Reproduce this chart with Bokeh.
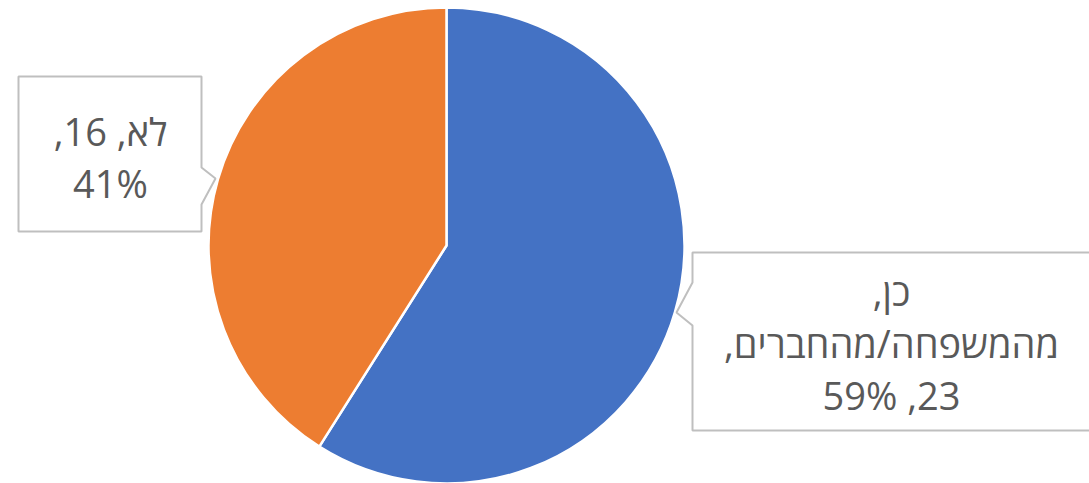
import math
from bokeh.plotting import figure
from bokeh.models import ColumnDataSource, Range1d
from bokeh.core.properties import value
from bokeh.embed import file_html
from bokeh.resources import INLINE

# ---- data ----
categories = ["כן, מהמשפחה/מהחברים", "לא"]
counts = [23, 16]
colors = ["#4472C4", "#ED7D31"]

W, H = 1089, 483


def X(rx):
    return rx


def Y(ry):
    return H - ry


p = figure(width=W, height=H, output_backend="svg", toolbar_location=None,
           x_range=Range1d(0, W), y_range=Range1d(0, H),
           min_border=0, min_border_left=0, min_border_right=0,
           min_border_top=0, min_border_bottom=0)
p.axis.visible = False
p.grid.visible = False
p.outline_line_color = None
p.background_fill_color = "white"
p.border_fill_color = "white"

# ---- pie ----
total = sum(counts)
cx, cy, r = X(446), Y(245), 238
starts, ends = [], []
ang = math.pi / 2
for c in counts:
    sweep = 2 * math.pi * c / total
    starts.append(ang - sweep)
    ends.append(ang)
    ang -= sweep
pie_src = ColumnDataSource(dict(start=starts, end=ends, color=colors,
                                x=[cx] * len(counts), y=[cy] * len(counts)))
p.wedge(x="x", y="y", radius=r, start_angle="start", end_angle="end",
        fill_color="color", line_color="white", line_width=2.5, source=pie_src)

# ---- callout boxes ----
left_box = [(18, 76), (201, 76), (201, 167), (215, 178), (201, 204), (201, 231), (18, 231)]
right_box = [(692, 252), (1100, 252), (1100, 430), (692, 430), (692, 325), (676, 312), (692, 282)]
for box in (left_box, right_box):
    p.patch([X(a) for a, b in box], [Y(b) for a, b in box],
            fill_color="white", line_color="#BFBFBF", line_width=2)

# ---- labels ----
RLM = "\u200f"
pcts = [round(100 * c / total) for c in counts]
yes_parts = categories[0].split(", ")
right_lines = [yes_parts[0] + ",", yes_parts[1] + ",", f"{counts[0]}, {pcts[0]}%"]
left_lines = [f"{categories[1]}, {counts[1]},", f"{pcts[1]}%"]

tx, ty, tt = [], [], []
for i, line in enumerate(left_lines):
    tx.append(X(110)); ty.append(Y(130 + 52 * i)); tt.append(RLM + line + RLM)
for i, line in enumerate(right_lines):
    tx.append(X(891)); ty.append(Y(290 + 52 * i)); tt.append(RLM + line + RLM)

p.text(x=tx, y=ty, text=tt, text_align="center", text_baseline="alphabetic",
       text_font=value("Open Sans"), text_font_size="38px", text_color="#595959")

open("out.html", "w").write(file_html(p, INLINE))
